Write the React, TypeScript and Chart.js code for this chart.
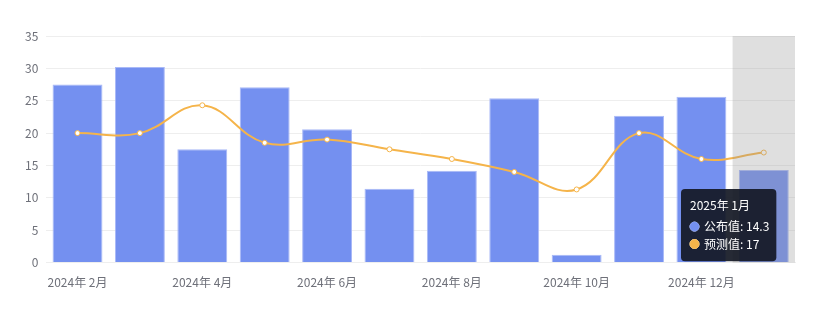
import React, { useEffect, useRef } from "react";
import { Chart, registerables, Tooltip } from "chart.js";

Chart.register(...registerables);

const categories = [
  "2024年 2月", "2024年 3月", "2024年 4月", "2024年 5月", "2024年 6月", "2024年 7月",
  "2024年 8月", "2024年 9月", "2024年 10月", "2024年 11月", "2024年 12月", "2025年 1月",
];
const publishedValues = [27.5, 30.2, 17.5, 27.1, 20.6, 11.4, 14.2, 25.4, 1.2, 22.7, 25.6, 14.3];
const forecastValues = [20, 20, 24.3, 18.5, 19, 17.5, 16, 14, 11.3, 20, 16, 17];
const yTicks = [0, 5, 10, 15, 20, 25, 30, 35];

const BAR = "#7490f0";
const BAR_BORDER = "#a9b9f7";
const LINE = "#f5b44a";
const FONT = "'Noto Sans CJK SC', 'Noto Sans', sans-serif";
const activeIndex = 11;

(Tooltip.positioners as any).fixedBox = function () {
  return { x: 677, y: 181 };
};

const shadePlugin = {
  id: "shade",
  afterDatasetsDraw(chart: any) {
    const xs = chart.scales.x;
    const area = chart.chartArea;
    const w = xs.width / categories.length;
    const cx = xs.getPixelForValue(activeIndex);
    const ctx = chart.ctx;
    ctx.save();
    ctx.fillStyle = "rgba(150,150,150,0.3)";
    ctx.fillRect(cx - w / 2, area.top, w, area.bottom - area.top);
    ctx.restore();
  },
};

export default function App() {
  const ref = useRef<HTMLCanvasElement>(null);
  useEffect(() => {
    if (!ref.current) return;
    const chart = new Chart(ref.current, {
      type: "bar",
      data: {
        labels: categories,
        datasets: [
          {
            type: "bar",
            label: "公布值",
            data: publishedValues,
            backgroundColor: BAR,
            hoverBackgroundColor: BAR,
            borderColor: BAR_BORDER,
            hoverBorderColor: BAR_BORDER,
            borderWidth: 1,
            barPercentage: 0.8,
            categoryPercentage: 1,
            order: 2,
          } as any,
          {
            type: "line",
            label: "预测值",
            data: forecastValues,
            borderColor: LINE,
            backgroundColor: LINE,
            borderWidth: 2,
            tension: 0.4,
            pointRadius: 2.5,
            pointHoverRadius: 2.5,
            pointBackgroundColor: "#ffffff",
            pointHoverBackgroundColor: "#ffffff",
            pointBorderColor: LINE,
            pointHoverBorderColor: LINE,
            pointBorderWidth: 1,
            pointHoverBorderWidth: 1,
            order: 1,
          } as any,
        ],
      },
      options: {
        animation: false,
        responsive: true,
        maintainAspectRatio: false,
        events: [],
        layout: { padding: { left: 9, right: 14, top: 28, bottom: 8 } },
        scales: {
          x: {
            grid: { display: false, drawTicks: false },
            border: { display: true, color: "#eeeeee" },
            ticks: {
              autoSkip: false,
              maxRotation: 0,
              padding: 13,
              color: "#6e7079",
              font: { family: FONT, size: 12 },
              callback: (_v: any, i: number) => (i % 2 === 0 ? categories[i] : ""),
            },
          },
          y: {
            min: 0,
            max: 35,
            afterBuildTicks: (axis: any) => {
              axis.ticks = yTicks.map((v) => ({ value: v }));
            },
            grid: { color: "#eeeeee", drawTicks: false },
            border: { display: false },
            ticks: {
              padding: 8,
              color: "#6e7079",
              font: { family: FONT, size: 12 },
            },
          },
        },
        plugins: {
          legend: { display: false },
          tooltip: {
            enabled: true,
            position: "fixedBox" as any,
            xAlign: "left",
            yAlign: "top",
            caretSize: 0,
            caretPadding: 0,
            cornerRadius: 4,
            backgroundColor: "rgba(20,24,36,0.92)",
            titleColor: "#ffffff",
            bodyColor: "#ffffff",
            titleFont: { family: FONT, size: 12, weight: "normal" },
            bodyFont: { family: FONT, size: 12 },
            titleMarginBottom: 7,
            bodySpacing: 3,
            padding: { top: 9, bottom: 10, left: 9, right: 7 },
            displayColors: true,
            usePointStyle: true,
            boxWidth: 9,
            boxHeight: 9,
            boxPadding: 3,
            callbacks: {
              label: (item: any) => `${item.dataset.label}: ${item.raw}`,
              labelColor: (item: any) => {
                const c = item.datasetIndex === 0 ? BAR : LINE;
                return { borderColor: c, backgroundColor: c, borderWidth: 0 } as any;
              },
              labelPointStyle: () => ({ pointStyle: "circle", rotation: 0 }),
            },
          },
        },
      },
      plugins: [shadePlugin],
    });
    const els = [
      { datasetIndex: 0, index: activeIndex },
      { datasetIndex: 1, index: activeIndex },
    ];
    chart.setActiveElements(els);
    chart.tooltip!.setActiveElements(els, { x: 677, y: 181 });
    chart.update();
    return () => chart.destroy();
  }, []);
  return (
    <div style={{ width: 801, height: 303, position: "relative" }}>
      <canvas ref={ref} />
    </div>
  );
}
